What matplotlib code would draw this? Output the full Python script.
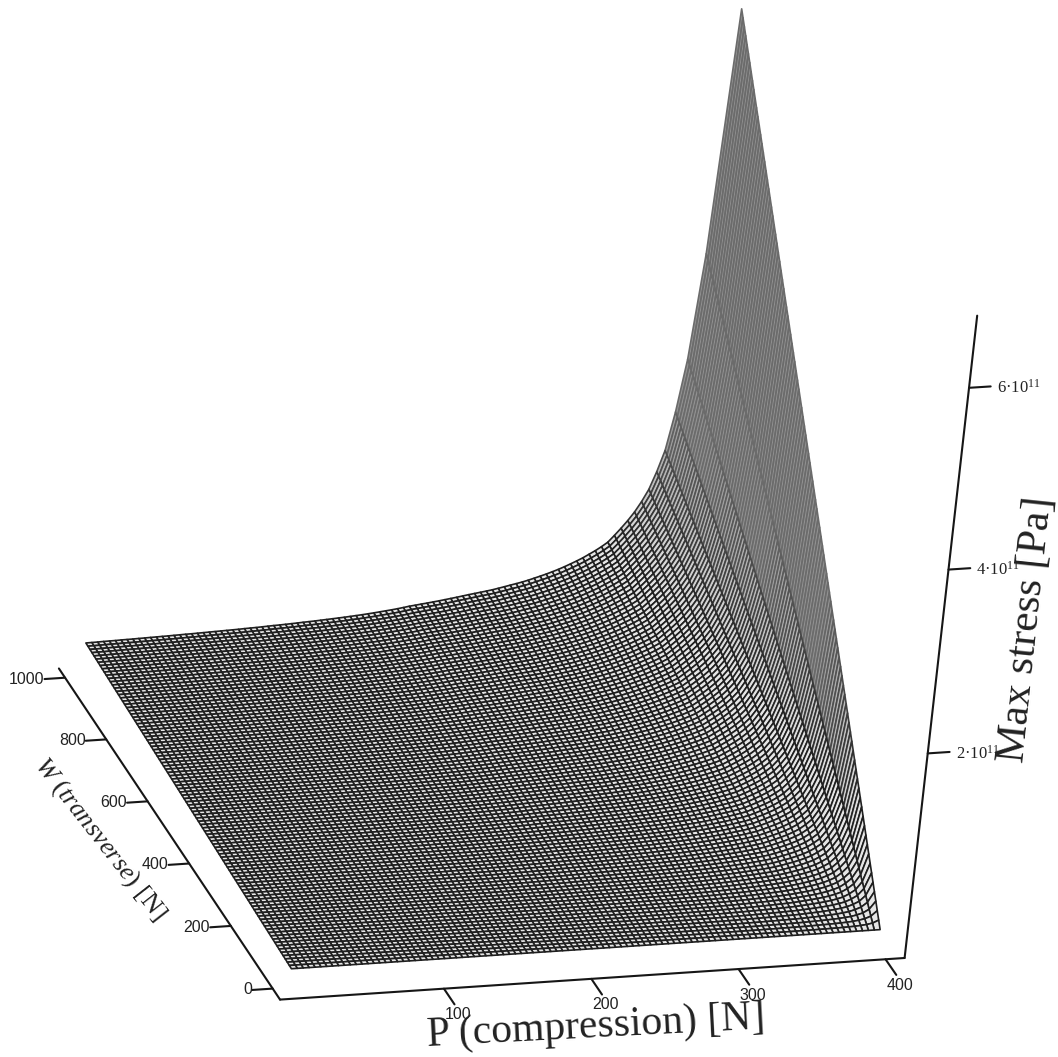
import numpy as np
import matplotlib
matplotlib.use('Agg')
import matplotlib.pyplot as plt

plt.rcParams['font.family'] = ['Liberation Sans', 'DejaVu Sans']
plt.rcParams['mathtext.fontset'] = 'custom'
plt.rcParams['mathtext.rm'] = 'Liberation Serif'
plt.rcParams['mathtext.it'] = 'Liberation Serif:italic'
plt.rcParams['mathtext.default'] = 'regular'

# data
P_values = np.arange(0, 401, 4)
W_values = np.arange(0, 1001, 10)
# max stress along the W = 1000 edge, in 1e11 Pa
stress_edge = [.166, .167, .168, .170, .171, .172, .174, .175, .176, .178, .179,
               .181, .182, .184, .185, .187, .189, .191, .192, .194, .196,
               .198, .200, .202, .204, .206, .208, .211, .213, .215, .218,
               .221, .224, .226, .229, .232, .235, .239, .242, .245, .249,
               .253, .257, .261, .265, .270, .275, .280, .286, .292, .299,
               .306, .313, .321, .330, .340, .347, .355, .362, .370, .378,
               .387, .396, .405, .415, .425, .434, .443, .452, .462, .474,
               .487, .500, .513, .526, .542, .560, .578, .597, .618, .640,
               .665, .692, .720, .750, .785, .820, .860, .905, .975, 1.05,
               1.13, 1.22, 1.33, 1.46, 1.65, 1.88, 2.30, 2.88, 4.05, 6.80]
P_ticks = [100, 200, 300, 400]
W_ticks = [0, 200, 400, 600, 800, 1000]
Z_ticks = [2, 4, 6]

# axis box
P0, P1 = -11, 413
W0, W1 = -35, 1030
Z0, Z1 = -0.2, 6.8

# camera calibration: (P, W, Z, x pixel, y pixel)
refs = [(-11, -35, -0.2, 279, 998), (413, -35, -0.2, 904, 957), (-11, 1000, -0.2, 63, 677),
        (100, -35, -0.2, 442, 989), (200, -35, -0.2, 590, 979), (300, -35, -0.2, 738, 969),
        (400, -35, -0.2, 885, 958), (-11, 0, -0.2, 272, 988), (-11, 200, -0.2, 232, 927),
        (-11, 400, -0.2, 192, 865), (-11, 600, -0.2, 148, 802), (-11, 800, -0.2, 107, 739),
        (413, -35, 2, 928, 755), (413, -35, 4, 948, 571), (413, -35, 6, 969, 388),
        (413, -35, 6.8, 977, 313), (0, 0, 0, 293, 970), (400, 0, 0, 883, 930),
        (0, 1000, 0.15, 85, 643), (400, 1000, 6.8, 742, 10)]
rows = []
for p, w, z, x, y in refs:
    X = [p / 400, w / 1000, z / 6, 1]
    u, v = x / 1000, (1057 - y) / 1000
    rows.append(X + [0, 0, 0, 0] + [-u * k for k in X])
    rows.append([0, 0, 0, 0] + X + [-v * k for k in X])
cam = np.linalg.svd(np.array(rows))[2][-1].reshape(3, 4)
if (cam @ np.array([.5, .5, 0, 1]))[2] < 0:
    cam = -cam
cam = cam @ np.diag([1 / 400, 1 / 1000, 1 / 6, 1])
cam[:2] *= 1000

fig = plt.figure(figsize=(10.58, 10.57), dpi=100)
ax = fig.add_axes([0, 0, 1, 1], projection='3d', computed_zorder=False)
ax.set_axis_off()


def get_proj():
    m = ax.transData.inverted().get_matrix() @ cam
    return np.array([m[0], m[1], [0, 0, 0, -1], m[2]])


ax.get_proj = get_proj


def label_at(p, w, z, dx, dy, text, **kw):
    h = cam @ np.array([p, w, z, 1])
    fig.text((h[0] / h[2] + dx) / 1058, (h[1] / h[2] - dy) / 1057, text, va='center',
             color='#222222', **kw)


PP, WW = np.meshgrid(P_values, W_values)
ZZ = np.outer(W_values / 1000, stress_edge)

# cells turn grey where the scanned mesh closes up on the spike
cell_z = ZZ[1:, 1:]
fade = np.clip((cell_z - 0.9) / 1.6, 0, 1)
face = np.repeat((0.9 - 0.33 * fade)[:, :, None], 3, axis=2)
edge = np.repeat((0.12 + 0.3 * fade)[:, :, None], 3, axis=2)

surf = ax.plot_surface(PP, WW, ZZ, rstride=1, cstride=1, shade=False, facecolors=face,
                       linewidth=1.2, antialiased=True)
surf.set_edgecolor(edge.reshape(-1, 3))

axis_kw = dict(color='#161616', lw=1.5, solid_capstyle='round')
ax.plot([P0, P1], [W0, W0], [Z0, Z0], **axis_kw)
ax.plot([P0, P0], [W0, W1], [Z0, Z0], **axis_kw)
ax.plot([P1, P1], [W0, W0], [Z0, Z1], **axis_kw)

for p in P_ticks:
    ax.plot([p, p], [W0, W0 - 50], [Z0, Z0], **axis_kw)
    label_at(p, W0, Z0, 14, 26, str(p), ha='center', fontsize=11.5)
for w in W_ticks:
    ax.plot([P0, P0 - 14], [w, w], [Z0, Z0], **axis_kw)
    label_at(P0 - 14, w, Z0, 0, 0, str(w), ha='right', fontsize=11.5)
for z in Z_ticks:
    ax.plot([P1, P1 + 15], [W0, W0], [z, z], **axis_kw)
    label_at(P1, W0, z, 28, 0, '%d·10$^{11}$' % z, ha='left', fontsize=12,
             family=['Liberation Serif'])

fig.text(596 / 1058, 1 - 1027 / 1057, 'P (compression) [N]', family=['Liberation Serif'],
         fontsize=30, rotation=3, ha='center', va='center', color='#222222')
fig.text(1027 / 1058, 1 - 630 / 1057, 'Max stress [Pa]', family=['Liberation Serif'],
         fontsize=31, rotation=84, ha='center', va='center', color='#222222')
fig.text(100 / 1058, 1 - 839 / 1057, r'$\mathit{W\ (transverse)}$ [N]', family=['Liberation Serif'],
         fontsize=19, rotation=-52, ha='center', va='center', color='#222222')

fig.savefig('out.png', dpi=100)
